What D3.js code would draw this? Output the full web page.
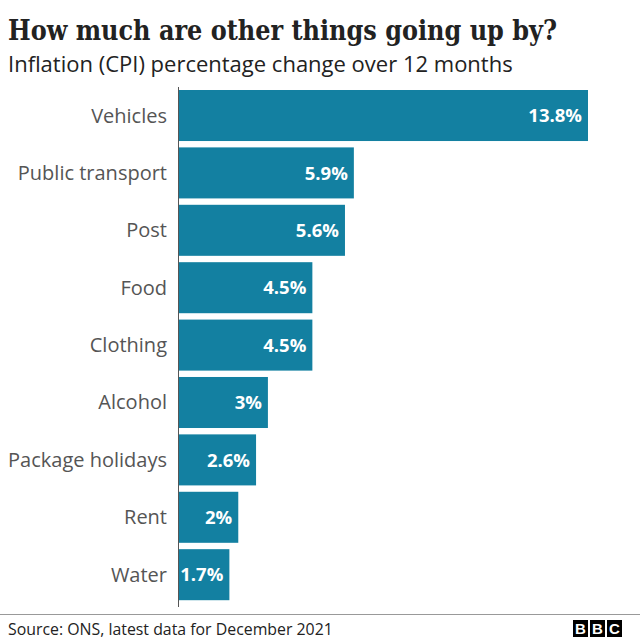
<!DOCTYPE html>
<html><head><meta charset="utf-8">
<script src="https://cdn.jsdelivr.net/npm/d3@7"></script>
<style>body{margin:0;background:#fff}svg{display:block}</style>
</head><body><svg id="c" width="640" height="640"></svg>
<script>
const categories = ["Vehicles","Public transport","Post","Food","Clothing","Alcohol","Package holidays","Rent","Water"];
const values = [13.8,5.9,5.6,4.5,4.5,3,2.6,2,1.7];
const valueLabels = ["13.8%","5.9%","5.6%","4.5%","4.5%","3%","2.6%","2%","1.7%"];
const titleText = "How much are other things going up by?";
const subtitleText = "Inflation (CPI) percentage change over 12 months";
const sourceText = "Source: ONS, latest data for December 2021";

const svg = d3.select("#c");
const sans = "'Open Sans', 'Noto Sans', sans-serif";

function fit(sel, w){ const l = sel.node().getComputedTextLength(); const fs = parseFloat(sel.attr("font-size")); sel.attr("font-size", fs*w/l); }

svg.append("text").attr("x",8).attr("y",39.5).attr("font-family","'DejaVu Serif', serif").attr("font-weight","bold").attr("font-size",27.5)
  .attr("textLength",549).attr("lengthAdjust","spacingAndGlyphs").attr("fill","#222").text(titleText);
const st = svg.append("text").attr("x",8).attr("y",72).attr("font-family",sans).attr("font-size",20).attr("fill","#222").text(subtitleText);
fit(st, 505);

const x = d3.scaleLinear().domain([0,13.8]).range([179,588]);
const y = d3.scaleBand().domain(categories).range([90,600.2]).paddingInner(0.111).paddingOuter(0);

const data = categories.map((c,i)=>({c, v:values[i], l:valueLabels[i]}));

svg.append("g").selectAll("rect").data(data).join("rect")
  .attr("x",x(0)).attr("y",d=>y(d.c)).attr("width",d=>x(d.v)-x(0)).attr("height",y.bandwidth()).attr("fill","#1380A1");

svg.append("line").attr("x1",178.5).attr("x2",178.5).attr("y1",87).attr("y2",607).attr("stroke","#555").attr("stroke-width",1);

const cl = svg.append("g").selectAll("text").data(data).join("text")
  .attr("x",167).attr("y",d=>y(d.c)+y.bandwidth()/2).attr("dy","0.35em").attr("text-anchor","end")
  .attr("font-family",sans).attr("font-size",18.5).attr("fill","#555").text(d=>d.c);
const pk = cl.filter(d=>d.c==="Package holidays").node().getComputedTextLength();
cl.attr("font-size", 18.5*159/pk);

svg.append("g").selectAll("text").data(data).join("text")
  .attr("x",d=>x(d.v)-6).attr("y",d=>y(d.c)+y.bandwidth()/2).attr("dy","0.36em").attr("text-anchor","end")
  .attr("font-family",sans).attr("font-weight","bold").attr("font-size",18.5).attr("fill","#fff").text(d=>d.l);

svg.append("line").attr("x1",0).attr("x2",640).attr("y1",614.5).attr("y2",614.5).attr("stroke","#999").attr("stroke-width",1);
const so = svg.append("text").attr("x",8).attr("y",635).attr("font-family",sans).attr("font-size",16).attr("fill","#222").text(sourceText);
fit(so, 325);

const logo = svg.append("g");
["B","B","C"].forEach((ch,i)=>{
  const lx = 573 + i*17;
  logo.append("rect").attr("x",lx).attr("y",620).attr("width",15).attr("height",17).attr("fill","#000");
  logo.append("text").attr("x",lx+7.5).attr("y",634).attr("text-anchor","middle").attr("font-family","'Liberation Sans', Arial, sans-serif").attr("font-weight","bold").attr("font-size",15).attr("fill","#fff").text(ch);
});
</script></body></html>
